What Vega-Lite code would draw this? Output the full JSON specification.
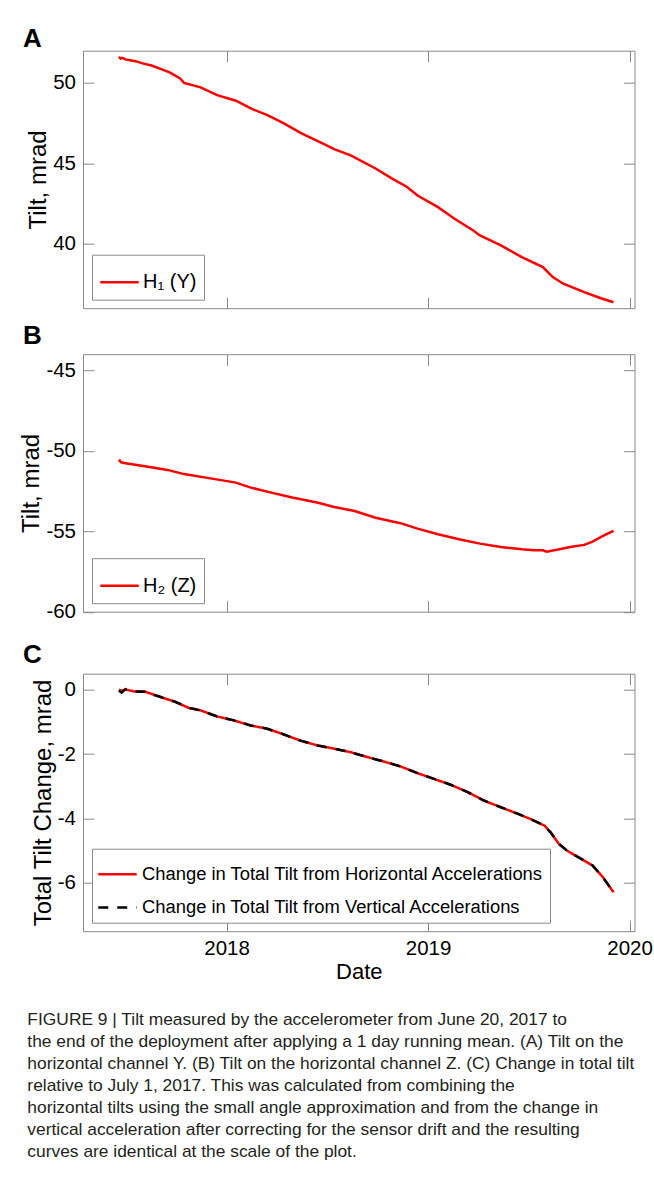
{
  "$schema": "https://vega.github.io/schema/vega-lite/v6.json",
  "background": "white",
  "autosize": {"type": "pad"},
  "padding": {"left": 19, "top": 24.7, "right": 0, "bottom": 0},
  "config": {
    "font": "Liberation Sans",
    "locale": {"number": {"decimal": ".", "thousands": ",", "grouping": [3], "currency": ["$", ""], "minus": "-"}},
    "view": {"stroke": "#8a8a8a", "strokeWidth": 1},
    "axis": {
      "domain": false, "grid": false,
      "tickColor": "#8a8a8a", "tickSize": -11, "tickWidth": 1,
      "labelColor": "black", "labelFontSize": 20.5, "labelPadding": 18.5,
      "titleColor": "black", "titleFontSize": 24, "titleFontWeight": "normal", "titlePadding": 2
    },
    "title": {"font": "Liberation Sans", "color": "black", "fontWeight": "bold", "fontSize": 26, "anchor": "start", "frame": "group", "dx": -60}
  },
  "datasets": {
    "h1": [
      {"date": "2017-06-20", "tilt": 51.62},
      {"date": "2017-06-23", "tilt": 51.52},
      {"date": "2017-06-26", "tilt": 51.56},
      {"date": "2017-07-02", "tilt": 51.46},
      {"date": "2017-07-20", "tilt": 51.35},
      {"date": "2017-08-02", "tilt": 51.21},
      {"date": "2017-08-18", "tilt": 51.08},
      {"date": "2017-09-01", "tilt": 50.90},
      {"date": "2017-09-20", "tilt": 50.65},
      {"date": "2017-10-09", "tilt": 50.28},
      {"date": "2017-10-16", "tilt": 50.00},
      {"date": "2017-11-15", "tilt": 49.72},
      {"date": "2017-12-15", "tilt": 49.24},
      {"date": "2018-01-18", "tilt": 48.89},
      {"date": "2018-02-14", "tilt": 48.41},
      {"date": "2018-03-16", "tilt": 48.00},
      {"date": "2018-04-15", "tilt": 47.48},
      {"date": "2018-05-15", "tilt": 46.89},
      {"date": "2018-06-22", "tilt": 46.27},
      {"date": "2018-07-15", "tilt": 45.88},
      {"date": "2018-08-14", "tilt": 45.50},
      {"date": "2018-09-28", "tilt": 44.68},
      {"date": "2018-10-28", "tilt": 44.05},
      {"date": "2018-11-24", "tilt": 43.53},
      {"date": "2018-12-13", "tilt": 43.00},
      {"date": "2019-01-19", "tilt": 42.28},
      {"date": "2019-02-18", "tilt": 41.56},
      {"date": "2019-03-24", "tilt": 40.83},
      {"date": "2019-04-05", "tilt": 40.52},
      {"date": "2019-05-13", "tilt": 39.90},
      {"date": "2019-06-20", "tilt": 39.17},
      {"date": "2019-07-28", "tilt": 38.55},
      {"date": "2019-08-15", "tilt": 37.93},
      {"date": "2019-09-03", "tilt": 37.52},
      {"date": "2019-10-11", "tilt": 37.00},
      {"date": "2019-11-10", "tilt": 36.62},
      {"date": "2019-12-03", "tilt": 36.37}
    ],
    "h2": [
      {"date": "2017-06-20", "tilt": -50.55},
      {"date": "2017-06-24", "tilt": -50.72},
      {"date": "2017-07-02", "tilt": -50.77},
      {"date": "2017-08-09", "tilt": -50.98},
      {"date": "2017-09-16", "tilt": -51.19},
      {"date": "2017-10-16", "tilt": -51.45},
      {"date": "2017-11-30", "tilt": -51.70},
      {"date": "2018-01-18", "tilt": -51.98},
      {"date": "2018-02-14", "tilt": -52.29},
      {"date": "2018-03-23", "tilt": -52.60},
      {"date": "2018-04-30", "tilt": -52.91},
      {"date": "2018-06-14", "tilt": -53.22},
      {"date": "2018-07-15", "tilt": -53.49},
      {"date": "2018-08-21", "tilt": -53.74},
      {"date": "2018-09-28", "tilt": -54.16},
      {"date": "2018-11-12", "tilt": -54.50},
      {"date": "2018-12-13", "tilt": -54.84},
      {"date": "2019-01-19", "tilt": -55.19},
      {"date": "2019-02-26", "tilt": -55.50},
      {"date": "2019-04-05", "tilt": -55.77},
      {"date": "2019-05-13", "tilt": -55.98},
      {"date": "2019-06-20", "tilt": -56.12},
      {"date": "2019-07-12", "tilt": -56.18},
      {"date": "2019-07-28", "tilt": -56.18},
      {"date": "2019-08-04", "tilt": -56.27},
      {"date": "2019-08-27", "tilt": -56.12},
      {"date": "2019-09-18", "tilt": -55.96},
      {"date": "2019-10-11", "tilt": -55.85},
      {"date": "2019-10-26", "tilt": -55.65},
      {"date": "2019-11-14", "tilt": -55.29},
      {"date": "2019-12-03", "tilt": -54.98}
    ],
    "total": [
      {"date": "2017-06-20", "horiz": 0.0, "vert": -0.02},
      {"date": "2017-06-25", "horiz": -0.03, "vert": -0.09},
      {"date": "2017-07-02", "horiz": 0.01, "vert": 0.02},
      {"date": "2017-07-17", "horiz": -0.05, "vert": -0.05},
      {"date": "2017-08-05", "horiz": -0.05, "vert": -0.06},
      {"date": "2017-09-01", "horiz": -0.21, "vert": -0.21},
      {"date": "2017-10-01", "horiz": -0.38, "vert": -0.38},
      {"date": "2017-10-24", "horiz": -0.56, "vert": -0.56},
      {"date": "2017-11-15", "horiz": -0.64, "vert": -0.64},
      {"date": "2017-12-15", "horiz": -0.83, "vert": -0.83},
      {"date": "2018-01-14", "horiz": -0.95, "vert": -0.95},
      {"date": "2018-02-14", "horiz": -1.11, "vert": -1.11},
      {"date": "2018-03-16", "horiz": -1.21, "vert": -1.21},
      {"date": "2018-04-15", "horiz": -1.39, "vert": -1.39},
      {"date": "2018-05-15", "horiz": -1.58, "vert": -1.58},
      {"date": "2018-06-15", "horiz": -1.73, "vert": -1.73},
      {"date": "2018-07-15", "horiz": -1.83, "vert": -1.83},
      {"date": "2018-08-14", "horiz": -1.94, "vert": -1.94},
      {"date": "2018-09-13", "horiz": -2.09, "vert": -2.09},
      {"date": "2018-10-13", "horiz": -2.23, "vert": -2.23},
      {"date": "2018-11-12", "horiz": -2.38, "vert": -2.38},
      {"date": "2018-12-13", "horiz": -2.59, "vert": -2.59},
      {"date": "2019-01-12", "horiz": -2.77, "vert": -2.77},
      {"date": "2019-02-11", "horiz": -2.95, "vert": -2.95},
      {"date": "2019-03-14", "horiz": -3.18, "vert": -3.18},
      {"date": "2019-04-12", "horiz": -3.44, "vert": -3.44},
      {"date": "2019-05-13", "horiz": -3.65, "vert": -3.65},
      {"date": "2019-06-12", "horiz": -3.85, "vert": -3.85},
      {"date": "2019-07-05", "horiz": -4.01, "vert": -4.01},
      {"date": "2019-07-31", "horiz": -4.22, "vert": -4.22},
      {"date": "2019-08-11", "horiz": -4.43, "vert": -4.43},
      {"date": "2019-08-26", "horiz": -4.79, "vert": -4.79},
      {"date": "2019-09-10", "horiz": -5.00, "vert": -5.00},
      {"date": "2019-10-11", "horiz": -5.31, "vert": -5.31},
      {"date": "2019-10-26", "horiz": -5.46, "vert": -5.46},
      {"date": "2019-11-14", "horiz": -5.83, "vert": -5.83},
      {"date": "2019-12-03", "horiz": -6.29, "vert": -6.29}
    ]
  },
  "title": {
    "text": [
      "FIGURE 9 | Tilt measured by the accelerometer from June 20, 2017 to",
      "the end of the deployment after applying a 1 day running mean. (A) Tilt on the",
      "horizontal channel Y. (B) Tilt on the horizontal channel Z. (C) Change in total tilt",
      "relative to July 1, 2017. This was calculated from combining the",
      "horizontal tilts using the small angle approximation and from the change in",
      "vertical acceleration after correcting for the sensor drift and the resulting",
      "curves are identical at the scale of the plot."
    ],
    "orient": "bottom", "anchor": "start", "frame": "bounds",
    "font": "Liberation Sans", "fontSize": 17.4, "fontWeight": "normal", "color": "#231f20",
    "lineHeight": 22, "offset": 28, "dx": 8
  },
  "spacing": 12.5,
  "resolve": {"scale": {"color": "independent", "strokeDash": "independent"}, "legend": {"color": "independent", "strokeDash": "independent"}},
  "vconcat": [
    {
      "width": 551.5, "height": 257.5,
      "title": {"text": "A", "offset": -1.5},
      "data": {"name": "h1"},
      "layer": [
        {
          "mark": {"type": "line", "strokeWidth": 2.5},
          "encoding": {
            "x": {"field": "date", "type": "temporal",
                  "scale": {"type": "utc", "domain": [{"year": 2017, "month": 4, "date": 16, "utc": true}, {"year": 2020, "month": 1, "date": 10, "utc": true}]},
                  "axis": {"orient": "bottom", "labels": false, "title": null,
                           "values": [{"year": 2018, "month": 1, "date": 1, "utc": true}, {"year": 2019, "month": 1, "date": 1, "utc": true}, {"year": 2020, "month": 1, "date": 1, "utc": true}]}},
            "y": {"field": "tilt", "type": "quantitative",
                  "scale": {"domain": [36, 52], "nice": false, "zero": false},
                  "axis": {"orient": "left", "values": [40, 45, 50], "title": "Tilt, mrad"}},
            "color": {"datum": "H₁ (Y)", "type": "nominal",
                      "scale": {"range": ["#ff0000"]},
                      "legend": {"title": null, "orient": "bottom-left", "offset": 9, "symbolType": "stroke", "symbolSize": 1480, "symbolStrokeWidth": 2.5, "labelFontSize": 20, "labelColor": "black", "labelOffset": 3, "padding": 7, "strokeColor": "#8a8a8a", "fillColor": "white", "labelLimit": 400}}
          }
        },
        {
          "mark": {"type": "line", "opacity": 0},
          "encoding": {
            "x": {"field": "date", "type": "temporal",
                  "scale": {"type": "utc", "domain": [{"year": 2017, "month": 4, "date": 16, "utc": true}, {"year": 2020, "month": 1, "date": 10, "utc": true}]},
                  "axis": {"orient": "top", "labels": false, "title": null,
                           "values": [{"year": 2018, "month": 1, "date": 1, "utc": true}, {"year": 2019, "month": 1, "date": 1, "utc": true}, {"year": 2020, "month": 1, "date": 1, "utc": true}]}},
            "y": {"field": "tilt", "type": "quantitative",
                  "scale": {"domain": [36, 52], "nice": false, "zero": false},
                  "axis": {"orient": "right", "labels": false, "title": null, "values": [40, 45, 50]}}
          }
        }
      ],
      "resolve": {"axis": {"x": "independent", "y": "independent"}}
    },
    {
      "width": 551.5, "height": 257.5,
      "title": {"text": "B", "offset": 5},
      "data": {"name": "h2"},
      "layer": [
        {
          "mark": {"type": "line", "strokeWidth": 2.5},
          "encoding": {
            "x": {"field": "date", "type": "temporal",
                  "scale": {"type": "utc", "domain": [{"year": 2017, "month": 4, "date": 16, "utc": true}, {"year": 2020, "month": 1, "date": 10, "utc": true}]},
                  "axis": {"orient": "bottom", "labels": false, "title": null,
                           "values": [{"year": 2018, "month": 1, "date": 1, "utc": true}, {"year": 2019, "month": 1, "date": 1, "utc": true}, {"year": 2020, "month": 1, "date": 1, "utc": true}]}},
            "y": {"field": "tilt", "type": "quantitative",
                  "scale": {"domain": [-60, -44], "nice": false, "zero": false},
                  "axis": {"orient": "left", "values": [-60, -55, -50, -45], "title": "Tilt, mrad"}},
            "color": {"datum": "H₂ (Z)", "type": "nominal",
                      "scale": {"range": ["#ff0000"]},
                      "legend": {"title": null, "orient": "bottom-left", "offset": 9, "symbolType": "stroke", "symbolSize": 1480, "symbolStrokeWidth": 2.5, "labelFontSize": 20, "labelColor": "black", "labelOffset": 3, "padding": 7, "strokeColor": "#8a8a8a", "fillColor": "white", "labelLimit": 400}}
          }
        },
        {
          "mark": {"type": "line", "opacity": 0},
          "encoding": {
            "x": {"field": "date", "type": "temporal",
                  "scale": {"type": "utc", "domain": [{"year": 2017, "month": 4, "date": 16, "utc": true}, {"year": 2020, "month": 1, "date": 10, "utc": true}]},
                  "axis": {"orient": "top", "labels": false, "title": null,
                           "values": [{"year": 2018, "month": 1, "date": 1, "utc": true}, {"year": 2019, "month": 1, "date": 1, "utc": true}, {"year": 2020, "month": 1, "date": 1, "utc": true}]}},
            "y": {"field": "tilt", "type": "quantitative",
                  "scale": {"domain": [-60, -44], "nice": false, "zero": false},
                  "axis": {"orient": "right", "labels": false, "title": null, "values": [-60, -55, -50, -45]}}
          }
        }
      ],
      "resolve": {"axis": {"x": "independent", "y": "independent"}}
    },
    {
      "width": 551.5, "height": 257.5,
      "title": {"text": [" ", "C"], "lineHeight": 5.5, "offset": 5},
      "data": {"name": "total"},
      "transform": [{"fold": ["horiz", "vert"], "as": ["series", "change"]}],
      "layer": [
        {
          "transform": [{"filter": "datum.series == 'horiz'"}],
          "mark": {"type": "line", "strokeWidth": 2.5},
          "encoding": {
            "x": {"field": "date", "type": "temporal", "title": "Date",
                  "scale": {"type": "utc", "domain": [{"year": 2017, "month": 4, "date": 16, "utc": true}, {"year": 2020, "month": 1, "date": 10, "utc": true}]},
                  "axis": {"orient": "bottom", "format": "%Y", "labelPadding": 18.8, "titleFontSize": 22, "titlePadding": 2.5,
                           "values": [{"year": 2018, "month": 1, "date": 1, "utc": true}, {"year": 2019, "month": 1, "date": 1, "utc": true}, {"year": 2020, "month": 1, "date": 1, "utc": true}]}},
            "y": {"field": "change", "type": "quantitative",
                  "scale": {"domain": [-7.5, 0.5], "nice": false, "zero": false},
                  "axis": {"orient": "left", "values": [-6, -4, -2, 0], "title": "Total Tilt Change, mrad"}},
            "color": {"field": "series", "type": "nominal",
                      "scale": {"domain": ["horiz", "vert"], "range": ["#ff0000", "#000000"]},
                      "legend": {"title": null, "orient": "bottom-left", "offset": 9, "symbolType": "stroke", "symbolSize": 1480, "symbolStrokeWidth": 2.5, "labelFontSize": 18.4, "labelColor": "black", "labelOffset": 4, "padding": 5, "rowPadding": 3.2, "strokeColor": "#8a8a8a", "fillColor": "white", "labelLimit": 600,
                                 "labelExpr": "datum.value == 'horiz' ? 'Change in Total Tilt from Horizontal Accelerations' : 'Change in Total Tilt from Vertical Accelerations'"}},
            "strokeDash": {"field": "series", "type": "nominal",
                      "scale": {"domain": ["horiz", "vert"], "range": [[1, 0], [10, 9]]},
                      "legend": {"title": null, "orient": "bottom-left", "offset": 9, "symbolType": "stroke", "symbolSize": 1480, "symbolStrokeWidth": 2.5, "labelFontSize": 18.4, "labelColor": "black", "labelOffset": 4, "padding": 5, "rowPadding": 3.2, "strokeColor": "#8a8a8a", "fillColor": "white", "labelLimit": 600,
                                 "labelExpr": "datum.value == 'horiz' ? 'Change in Total Tilt from Horizontal Accelerations' : 'Change in Total Tilt from Vertical Accelerations'"}}
          }
        },
        {
          "transform": [{"filter": "datum.series == 'vert'"}],
          "mark": {"type": "line", "strokeWidth": 2.5},
          "encoding": {
            "x": {"field": "date", "type": "temporal",
                  "scale": {"type": "utc", "domain": [{"year": 2017, "month": 4, "date": 16, "utc": true}, {"year": 2020, "month": 1, "date": 10, "utc": true}]},
                  "axis": {"orient": "top", "labels": false, "title": null,
                           "values": [{"year": 2018, "month": 1, "date": 1, "utc": true}, {"year": 2019, "month": 1, "date": 1, "utc": true}, {"year": 2020, "month": 1, "date": 1, "utc": true}]}},
            "y": {"field": "change", "type": "quantitative",
                  "scale": {"domain": [-7.5, 0.5], "nice": false, "zero": false},
                  "axis": {"orient": "right", "labels": false, "title": null, "values": [-6, -4, -2, 0]}},
            "color": {"field": "series", "type": "nominal",
                      "scale": {"domain": ["horiz", "vert"], "range": ["#ff0000", "#000000"]},
                      "legend": {"title": null, "orient": "bottom-left", "offset": 9, "symbolType": "stroke", "symbolSize": 1480, "symbolStrokeWidth": 2.5, "labelFontSize": 18.4, "labelColor": "black", "labelOffset": 4, "padding": 5, "rowPadding": 3.2, "strokeColor": "#8a8a8a", "fillColor": "white", "labelLimit": 600,
                                 "labelExpr": "datum.value == 'horiz' ? 'Change in Total Tilt from Horizontal Accelerations' : 'Change in Total Tilt from Vertical Accelerations'"}},
            "strokeDash": {"field": "series", "type": "nominal",
                      "scale": {"domain": ["horiz", "vert"], "range": [[1, 0], [10, 9]]},
                      "legend": {"title": null, "orient": "bottom-left", "offset": 9, "symbolType": "stroke", "symbolSize": 1480, "symbolStrokeWidth": 2.5, "labelFontSize": 18.4, "labelColor": "black", "labelOffset": 4, "padding": 5, "rowPadding": 3.2, "strokeColor": "#8a8a8a", "fillColor": "white", "labelLimit": 600,
                                 "labelExpr": "datum.value == 'horiz' ? 'Change in Total Tilt from Horizontal Accelerations' : 'Change in Total Tilt from Vertical Accelerations'"}}
          }
        }
      ],
      "resolve": {"axis": {"x": "independent", "y": "independent"}}
    }
  ]
}
